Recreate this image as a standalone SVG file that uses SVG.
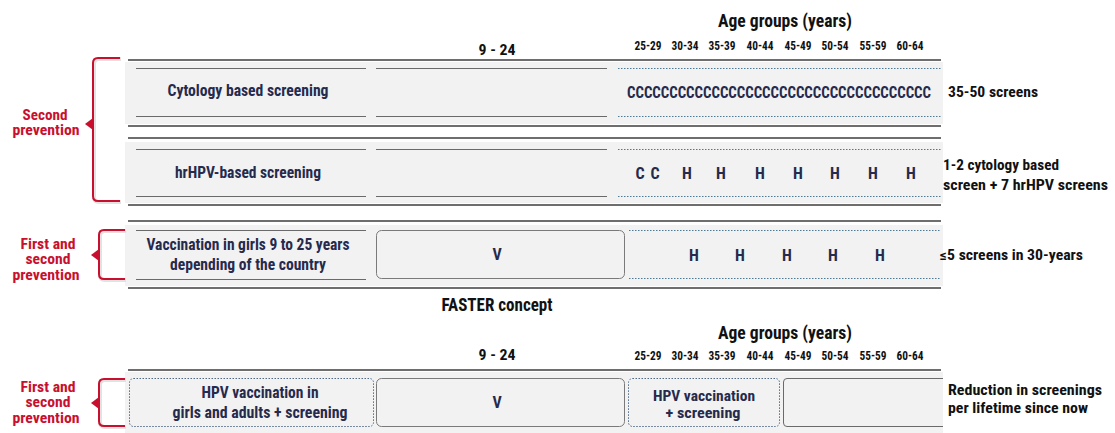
<svg xmlns="http://www.w3.org/2000/svg" width="1115" height="433" viewBox="0 0 1115 433">
<style>
.t{font-family:"Liberation Sans Narrow","Roboto Condensed","DejaVu Sans Condensed","Liberation Sans",sans-serif;font-weight:bold}
.nv{fill:#262a4c}
.bk{fill:#111}
.rd{fill:#c8102e}
.mid{text-anchor:middle}
.thick{stroke:#6e6e6e;stroke-width:2;fill:none}
.thin{stroke:#6a6a6a;stroke-width:1;fill:none}
.dot{stroke:#4f7a96;stroke-width:1;stroke-dasharray:1.5 1.5;fill:none}
.bg{fill:#f2f2f2}
.box{fill:#f2f2f2;stroke:#7a7a7a;stroke-width:1}
.dbox{fill:#f2f2f2;stroke:#4f6a86;stroke-width:1;stroke-dasharray:1.5 1.5}
.br{stroke:#c8102e;stroke-width:2;fill:none}
.brs{stroke:#e2e2e2;stroke-width:4;fill:none}
</style>
<rect width="1115" height="433" fill="#ffffff"/>

<!-- headers top -->
<g id="header1">
<text class="t bk mid" x="785" y="27" font-size="18" textLength="134" lengthAdjust="spacingAndGlyphs">Age groups (years)</text>
<text class="t bk mid" x="497" y="55" font-size="15" textLength="37" lengthAdjust="spacingAndGlyphs">9 - 24</text>
<g font-size="12">
<text class="t bk mid" x="648" y="50" textLength="27" lengthAdjust="spacingAndGlyphs">25-29</text>
<text class="t bk mid" x="685" y="50" textLength="27" lengthAdjust="spacingAndGlyphs">30-34</text>
<text class="t bk mid" x="722" y="50" textLength="27" lengthAdjust="spacingAndGlyphs">35-39</text>
<text class="t bk mid" x="760" y="50" textLength="27" lengthAdjust="spacingAndGlyphs">40-44</text>
<text class="t bk mid" x="798" y="50" textLength="27" lengthAdjust="spacingAndGlyphs">45-49</text>
<text class="t bk mid" x="835" y="50" textLength="27" lengthAdjust="spacingAndGlyphs">50-54</text>
<text class="t bk mid" x="873" y="50" textLength="27" lengthAdjust="spacingAndGlyphs">55-59</text>
<text class="t bk mid" x="910" y="50" textLength="27" lengthAdjust="spacingAndGlyphs">60-64</text>
</g>
</g>

<!-- Row 1 -->
<g id="row-cytology">
<rect class="bg" x="125" y="62" width="818" height="62"/>
<line class="thick" x1="128" y1="60" x2="941" y2="60"/>
<line class="thick" x1="128" y1="126" x2="941" y2="126"/>
<line class="thin" x1="136" y1="68.5" x2="366" y2="68.5"/>
<line class="thin" x1="136" y1="116.5" x2="366" y2="116.5"/>
<line class="thin" x1="376" y1="68.5" x2="607" y2="68.5"/>
<line class="thin" x1="376" y1="116.5" x2="607" y2="116.5"/>
<line class="dot" x1="618" y1="68.5" x2="941" y2="68.5"/>
<line class="dot" x1="618" y1="116.5" x2="941" y2="116.5"/>
<text class="t nv mid" x="248" y="96" font-size="16" textLength="161" lengthAdjust="spacingAndGlyphs">Cytology based screening</text>
<text class="t nv" x="627" y="98" font-size="16" textLength="304" lengthAdjust="spacingAndGlyphs">CCCCCCCCCCCCCCCCCCCCCCCCCCCCCCCCCCCC</text>
<text class="t bk" x="948" y="97" font-size="14" textLength="90" lengthAdjust="spacingAndGlyphs">35-50 screens</text>
</g>

<!-- Row 2 -->
<g id="row-hrhpv">
<rect class="bg" x="125" y="142" width="818" height="61"/>
<line class="thick" x1="128" y1="138" x2="941" y2="138"/>
<line class="thick" x1="128" y1="205" x2="941" y2="205"/>
<line class="thin" x1="136" y1="149.5" x2="366" y2="149.5"/>
<line class="thin" x1="136" y1="196.5" x2="366" y2="196.5"/>
<line class="thin" x1="376" y1="149.5" x2="607" y2="149.5"/>
<line class="thin" x1="376" y1="196.5" x2="607" y2="196.5"/>
<line class="dot" x1="618" y1="149.5" x2="941" y2="149.5"/>
<line class="dot" x1="618" y1="196.5" x2="941" y2="196.5"/>
<text class="t nv mid" x="248" y="178" font-size="16" textLength="146" lengthAdjust="spacingAndGlyphs">hrHPV-based screening</text>
<g font-size="16">
<text class="t nv mid" x="640" y="179">C</text>
<text class="t nv mid" x="655" y="179">C</text>
<text class="t nv mid" x="687" y="179">H</text>
<text class="t nv mid" x="721" y="179">H</text>
<text class="t nv mid" x="760" y="179">H</text>
<text class="t nv mid" x="798" y="179">H</text>
<text class="t nv mid" x="835" y="179">H</text>
<text class="t nv mid" x="873" y="179">H</text>
<text class="t nv mid" x="911" y="179">H</text>
</g>
<text class="t bk" x="943" y="170" font-size="14" textLength="116" lengthAdjust="spacingAndGlyphs">1-2 cytology based</text>
<text class="t bk" x="943" y="190" font-size="14" textLength="165" lengthAdjust="spacingAndGlyphs">screen + 7 hrHPV screens</text>
</g>

<!-- Row 3 -->
<g id="row-vaccination">
<rect class="bg" x="125" y="225" width="818" height="61"/>
<line class="thick" x1="128" y1="221" x2="941" y2="221"/>
<line class="thick" x1="128" y1="288" x2="941" y2="288"/>
<line class="thin" x1="136" y1="230.5" x2="366" y2="230.5"/>
<line class="thin" x1="136" y1="279.5" x2="366" y2="279.5"/>
<rect class="box" x="376.5" y="230.5" width="248" height="48" rx="5"/>
<line class="dot" x1="629" y1="230.5" x2="941" y2="230.5"/>
<line class="dot" x1="629" y1="278.5" x2="941" y2="278.5"/>
<text class="t nv mid" x="248" y="250" font-size="16" textLength="203" lengthAdjust="spacingAndGlyphs">Vaccination in girls 9 to 25 years</text>
<text class="t nv mid" x="248" y="270" font-size="16" textLength="156" lengthAdjust="spacingAndGlyphs">depending of the country</text>
<text class="t nv mid" x="497" y="260" font-size="16">V</text>
<g font-size="16">
<text class="t nv mid" x="694" y="261">H</text>
<text class="t nv mid" x="740" y="261">H</text>
<text class="t nv mid" x="787" y="261">H</text>
<text class="t nv mid" x="833" y="261">H</text>
<text class="t nv mid" x="880" y="261">H</text>
</g>
<text class="t bk" x="940" y="260" font-size="14" textLength="143" lengthAdjust="spacingAndGlyphs">≤5 screens in 30-years</text>
</g>

<!-- FASTER header -->
<g id="header2">
<text class="t bk mid" x="497" y="311" font-size="18" textLength="111" lengthAdjust="spacingAndGlyphs">FASTER concept</text>
<text class="t bk mid" x="785" y="339" font-size="18" textLength="134" lengthAdjust="spacingAndGlyphs">Age groups (years)</text>
<text class="t bk mid" x="497" y="360" font-size="15" textLength="37" lengthAdjust="spacingAndGlyphs">9 - 24</text>
<g font-size="12">
<text class="t bk mid" x="648" y="360" textLength="27" lengthAdjust="spacingAndGlyphs">25-29</text>
<text class="t bk mid" x="685" y="360" textLength="27" lengthAdjust="spacingAndGlyphs">30-34</text>
<text class="t bk mid" x="722" y="360" textLength="27" lengthAdjust="spacingAndGlyphs">35-39</text>
<text class="t bk mid" x="760" y="360" textLength="27" lengthAdjust="spacingAndGlyphs">40-44</text>
<text class="t bk mid" x="798" y="360" textLength="27" lengthAdjust="spacingAndGlyphs">45-49</text>
<text class="t bk mid" x="835" y="360" textLength="27" lengthAdjust="spacingAndGlyphs">50-54</text>
<text class="t bk mid" x="873" y="360" textLength="27" lengthAdjust="spacingAndGlyphs">55-59</text>
<text class="t bk mid" x="910" y="360" textLength="27" lengthAdjust="spacingAndGlyphs">60-64</text>
</g>
</g>

<!-- Row 4 -->
<g id="row-faster">
<rect class="bg" x="125" y="372" width="818" height="61"/>
<line class="thick" x1="128" y1="370" x2="941" y2="370"/>
<rect class="dbox" x="129.5" y="378.5" width="244" height="48" rx="4"/>
<rect class="box" x="376.5" y="378.5" width="248" height="48" rx="5"/>
<rect class="dbox" x="628.5" y="378.5" width="151" height="48" rx="4"/>
<path class="thin" d="M943,378.5 H787 Q783.5,378.5 783.5,382 V423 Q783.5,426.5 787,426.5 H943"/>
<text class="t nv mid" x="260" y="398" font-size="16" textLength="117" lengthAdjust="spacingAndGlyphs">HPV vaccination in</text>
<text class="t nv mid" x="260" y="418" font-size="16" textLength="175" lengthAdjust="spacingAndGlyphs">girls and adults + screening</text>
<text class="t nv mid" x="497" y="408" font-size="16">V</text>
<text class="t nv mid" x="704" y="401" font-size="15" textLength="102" lengthAdjust="spacingAndGlyphs">HPV vaccination</text>
<text class="t nv mid" x="703" y="418" font-size="15" textLength="75" lengthAdjust="spacingAndGlyphs">+ screening</text>
<text class="t bk" x="948" y="395" font-size="14" textLength="154" lengthAdjust="spacingAndGlyphs">Reduction in screenings</text>
<text class="t bk" x="948" y="413" font-size="14" textLength="140" lengthAdjust="spacingAndGlyphs">per lifetime since now</text>
</g>

<!-- Brackets -->
<g id="bracket-second">
<path class="brs" d="M121,59 H99 Q94,59 94,64 V197 Q94,202 99,202 H121"/>
<path class="br" d="M120,58 H98 Q93,58 93,63 V196 Q93,201 98,201 H120"/>
<polygon points="85,124 93,118 93,130" fill="#c8102e"/>
<text class="t rd mid" x="45" y="120" font-size="14" textLength="45" lengthAdjust="spacingAndGlyphs">Second</text>
<text class="t rd mid" x="46" y="135" font-size="14" textLength="67" lengthAdjust="spacingAndGlyphs">prevention</text>
</g>
<g id="bracket-first-1">
<path class="brs" d="M126,231 H105 Q100,231 100,236 V275 Q100,280 105,280 H126"/>
<path class="br" d="M125,230 H104 Q99,230 99,235 V274 Q99,279 104,279 H125"/>
<polygon points="91,255 99,249 99,261" fill="#c8102e"/>
<text class="t rd mid" x="48" y="249" font-size="14" textLength="55" lengthAdjust="spacingAndGlyphs">First and</text>
<text class="t rd mid" x="48" y="264" font-size="14" textLength="45" lengthAdjust="spacingAndGlyphs">second</text>
<text class="t rd mid" x="46" y="280" font-size="14" textLength="67" lengthAdjust="spacingAndGlyphs">prevention</text>
</g>
<g id="bracket-first-2">
<path class="brs" d="M126,380 H105 Q100,380 100,385 V422 Q100,427 105,427 H126"/>
<path class="br" d="M125,379 H104 Q99,379 99,384 V421 Q99,426 104,426 H125"/>
<polygon points="91,403 99,397 99,409" fill="#c8102e"/>
<text class="t rd mid" x="48" y="392" font-size="14" textLength="55" lengthAdjust="spacingAndGlyphs">First and</text>
<text class="t rd mid" x="48" y="407" font-size="14" textLength="45" lengthAdjust="spacingAndGlyphs">second</text>
<text class="t rd mid" x="46" y="423" font-size="14" textLength="67" lengthAdjust="spacingAndGlyphs">prevention</text>
</g>
<g id="connectors"></g>
</svg>
